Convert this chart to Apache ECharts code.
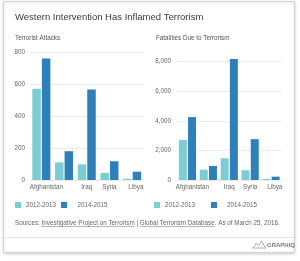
<!DOCTYPE html>
<html>
<head>
<meta charset="utf-8">
<script src="https://cdn.jsdelivr.net/npm/echarts@6/dist/echarts.min.js"></script>
<style>
  html, body { margin: 0; padding: 0; background: #fff; }
  #chart { width: 300px; height: 261px; }
</style>
</head>
<body>
<div id="chart"></div>
<script>
// data
const countries = ['Afghanistan', 'Yemen', 'Iraq', 'Syria', 'Libya']
const periods = ['2012-2013', '2014-2015']
const attacks1213 = [570, 110, 98, 44, 8]
const attacks1415 = [760, 180, 565, 117, 52]
const deaths1213 = [2710, 700, 1470, 660, 80]
const deaths1415 = [4250, 950, 8170, 2760, 225]

const title = 'Western Intervention Has Inflamed Terrorism'
const leftTitle = 'Terrorist Attacks'
const rightTitle = 'Fatalities Due to Terrorism'
const srcPrefix = 'Sources: '
const link1 = 'Investigative Project on Terrorism'
const link2 = 'Global Terrorism Database'
const srcSuffix = '. As of March 25, 2016.'

const FONT = '"Liberation Sans", Arial, sans-serif'
const LIGHT = '#7ccdd3'
const DARK = '#2f7fba'
const GREY = '#666'
const SMALL = 6.3

// measure text so the link underlines sit under the right words
const ctx = document.createElement('canvas').getContext('2d')
ctx.font = SMALL + 'px ' + FONT
const tw = s => ctx.measureText(s).width

const labelBase = { color: GREY, fontSize: SMALL, fontFamily: FONT }

function xAxisFor(gridIndex) {
  return {
    type: 'category', gridIndex, data: countries,
    axisLine: { show: false }, axisTick: { show: false },
    axisLabel: {
      ...labelBase, margin: 4,
      interval: i => i !== 1,   // 2nd label is hidden in the original (overlap)
      formatter: (v, i) => i === 0 ? '{first|' + v + '}' : i === countries.length - 1 ? '{last|' + v + '}' : v,
      rich: {
        first: { ...labelBase, padding: [0, 0, 0, 10] },
        last: { ...labelBase, padding: [0, 0, 0, 7.5] },
      },
    },
  }
}

function legendAt(name, left, extra) {
  return {
    data: [name], left, top: 202, padding: 0,
    icon: 'rect', itemWidth: 6, itemHeight: 6,
    textStyle: { ...labelBase, padding: [0, 0, 0, extra] },
  }
}

const ux1 = 15 + tw(srcPrefix)
const ux2 = 15 + tw(srcPrefix + link1 + ' | ')

const chart = echarts.init(document.getElementById('chart'))
chart.setOption({
  animation: false,
  backgroundColor: '#fff',
  textStyle: { fontFamily: FONT },
  title: [
    { text: title, left: 15, top: 12, padding: 0, textStyle: { fontSize: 9.5, fontWeight: 'normal', color: '#3a3a3a', fontFamily: FONT } },
    { text: leftTitle, left: 15, top: 35, padding: 0, textStyle: { fontSize: SMALL, fontWeight: 'normal', color: '#555', fontFamily: FONT } },
    { text: rightTitle, left: 156, top: 35, padding: 0, textStyle: { fontSize: SMALL, fontWeight: 'normal', color: '#555', fontFamily: FONT } },
    { text: srcPrefix + link1 + ' | ' + link2 + srcSuffix, left: 15, top: 220, padding: 0, textStyle: { fontSize: SMALL, fontWeight: 'normal', color: GREY, fontFamily: FONT } },
  ],
  legend: [
    legendAt(periods[0], 15, 0),
    legendAt(periods[1], 61, 5.5),
    legendAt(periods[0], 154, 0),
    legendAt(periods[1], 211, 5),
  ],
  grid: [
    { left: 30, top: 52, width: 113.5, height: 128 },
    { left: 177, top: 52, width: 104.5, height: 128 },
  ],
  xAxis: [xAxisFor(0), xAxisFor(1)],
  yAxis: [
    {
      type: 'value', gridIndex: 0, min: 0, max: 800, interval: 200,
      axisLabel: { ...labelBase, margin: 5 },
      splitLine: { lineStyle: { color: '#ececec' } },
    },
    {
      type: 'value', gridIndex: 1, min: 0, max: 8650, interval: 2000,
      axisLabel: { ...labelBase, margin: 6, showMaxLabel: false, formatter: v => v.toLocaleString('en-US') },
      splitLine: { showMaxLine: false, lineStyle: { color: '#ececec' } },
    },
  ],
  series: [
    { name: periods[0], type: 'bar', xAxisIndex: 0, yAxisIndex: 0, data: attacks1213, barWidth: 8.5, barGap: '12%', itemStyle: { color: LIGHT } },
    { name: periods[1], type: 'bar', xAxisIndex: 0, yAxisIndex: 0, data: attacks1415, barWidth: 8.5, barGap: '12%', itemStyle: { color: DARK } },
    { name: periods[0], type: 'bar', xAxisIndex: 1, yAxisIndex: 1, data: deaths1213, barWidth: 8, barGap: '15%', itemStyle: { color: LIGHT } },
    { name: periods[1], type: 'bar', xAxisIndex: 1, yAxisIndex: 1, data: deaths1415, barWidth: 8, barGap: '15%', itemStyle: { color: DARK } },
  ],
  graphic: [
    // card
    { type: 'rect', z: -10, silent: true, shape: { x: 3.5, y: 1.5, width: 291, height: 251 },
      style: { fill: '#fff', stroke: '#d4d4d4', lineWidth: 1, shadowBlur: 3, shadowOffsetY: 1, shadowColor: 'rgba(0,0,0,0.18)' } },
    // footer separator
    { type: 'line', silent: true, shape: { x1: 4, y1: 237.5, x2: 294, y2: 237.5 }, style: { stroke: '#e6e6e6', lineWidth: 1 } },
    // link underlines
    { type: 'line', silent: true, shape: { x1: ux1, y1: 226.5, x2: ux1 + tw(link1), y2: 226.5 }, style: { stroke: '#888', lineWidth: 0.6 } },
    { type: 'line', silent: true, shape: { x1: ux2, y1: 226.5, x2: ux2 + tw(link2), y2: 226.5 }, style: { stroke: '#888', lineWidth: 0.6 } },
    // graphiq logo
    { type: 'polyline', silent: true, shape: { points: [[253, 248], [256.5, 243], [258.5, 245.5], [261.5, 241], [265.5, 248]] }, style: { stroke: '#999', lineWidth: 0.8, fill: null } },
    { type: 'line', silent: true, shape: { x1: 252.5, y1: 248, x2: 266, y2: 248 }, style: { stroke: '#999', lineWidth: 0.8 } },
    { type: 'text', silent: true, x: 267, y: 245.5,
      style: { text: 'GRAPHIQ', fontSize: 6, fontWeight: 'bold', fontFamily: FONT, fill: '#7a7a7a', verticalAlign: 'middle' } },
  ],
})
</script>
</body>
</html>
